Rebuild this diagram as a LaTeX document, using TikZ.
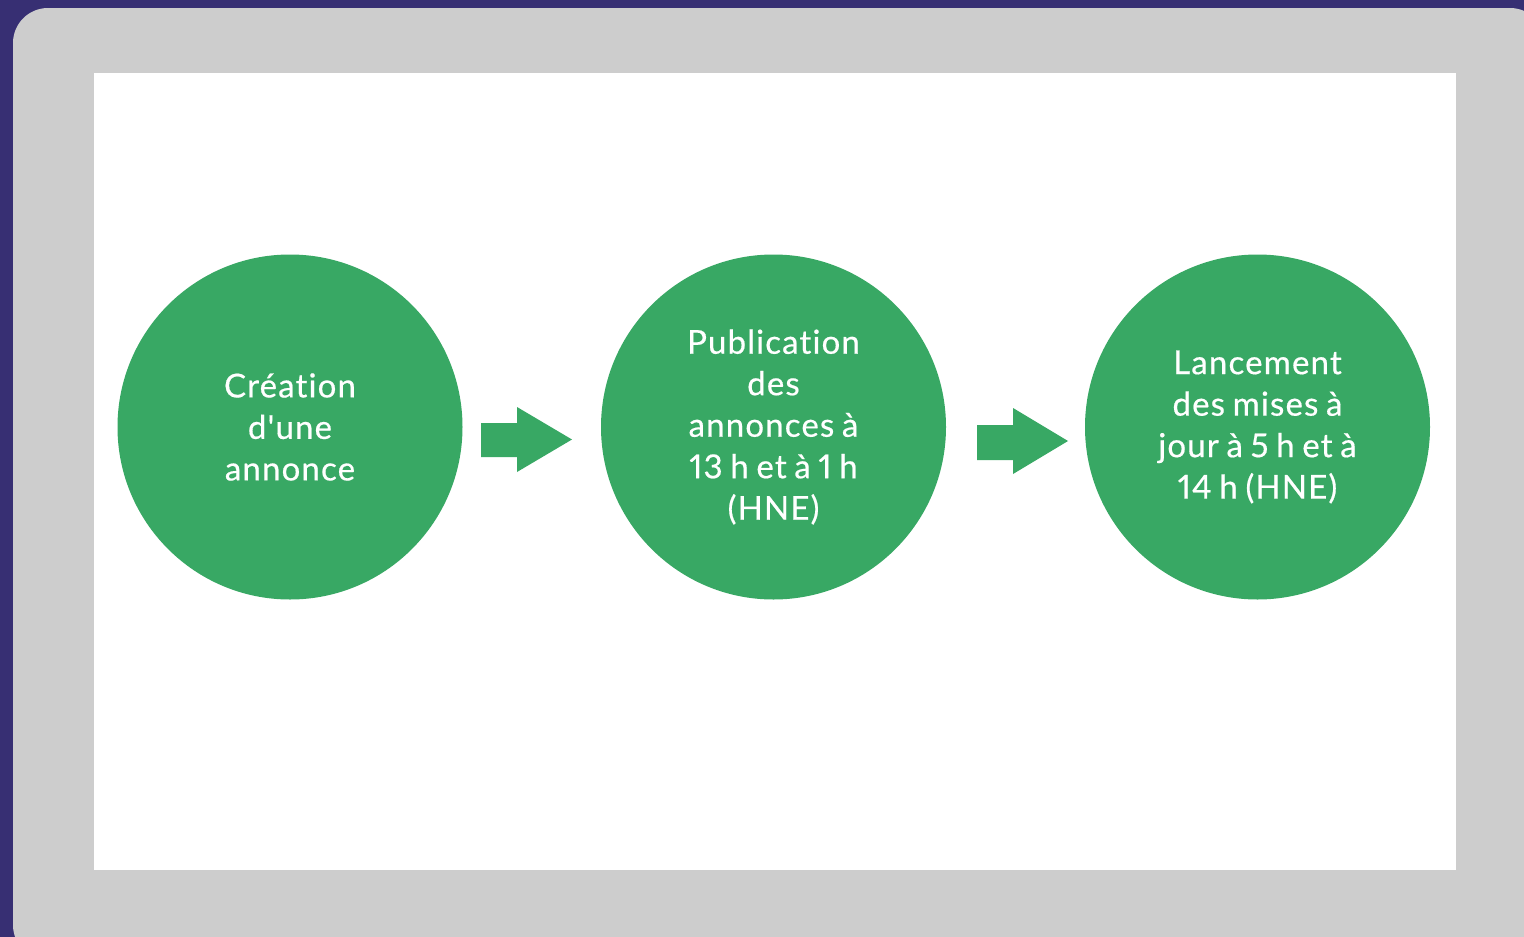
\documentclass[tikz,border=0pt]{standalone}
\usepackage{fontspec}
\setmainfont{Lato}[Ligatures={NoCommon,TeXOff}, LetterSpace=3.5, FakeBold=0.5, Numbers=Proportional, WordSpace=0.8]
\definecolor{bgpurple}{HTML}{372F73}
\definecolor{framegray}{HTML}{CDCDCD}
\definecolor{stepgreen}{HTML}{38A864}
\tikzset{
  stepcircle/.style={circle, fill=stepgreen, minimum size=345pt, inner sep=0pt, text=white, align=center, font=\fontsize{33}{41.5}\selectfont},
  blockarrow/.style={fill=stepgreen},
}
\begin{document}
\begin{tikzpicture}[x=1pt,y=-1pt]
\useasboundingbox (0,0) rectangle (1524,937);
\fill[bgpurple] (0,0) rectangle (1524,937);
\fill[framegray, rounded corners=35pt] (13,8) rectangle (1545,960);
\fill[white] (94,73) rectangle (1456,870);
\node[stepcircle] (c1) at (290,427) {Création\\d'une\\annonce};
\node[stepcircle] (c2) at (773.5,427) {Publication\\des\\annonces à\\13 h et à 1 h\\(HNE)};
\node[stepcircle] (c3) at (1257.5,427) {Lancement\\des mises à\\jour à 5 h et à\\14 h (HNE)};
\fill[blockarrow] (481,423) -- (517,423) -- (517,407) -- (572,439.5) -- (517,472) -- (517,457) -- (481,457) -- cycle;
\fill[blockarrow] (977,425) -- (1013,425) -- (1013,408) -- (1068,441) -- (1013,474) -- (1013,460) -- (977,460) -- cycle;
\end{tikzpicture}
\end{document}
